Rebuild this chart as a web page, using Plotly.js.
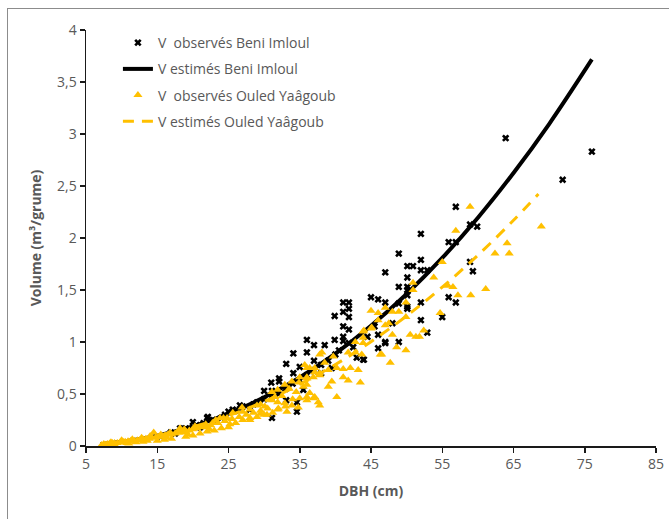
<!DOCTYPE html>
<html>
<head>
<meta charset="utf-8">
<script src="https://cdn.plot.ly/plotly-3.0.1.min.js"></script>
<style>
  html, body { margin: 0; padding: 0; background: #fff; overflow: hidden; }
  #wrap { position: relative; width: 669px; height: 519px; }
  #chart { position: absolute; left: 0; top: 0; width: 669px; height: 519px; }
  #frame { position: absolute; left: 7px; top: 8px; width: 700px; height: 600px;
           border: 1px solid #8c8c8c; box-sizing: border-box; pointer-events: none; }
</style>
</head>
<body>
<div id="wrap">
  <div id="chart"></div>
  <div id="frame"></div>
</div>
<script>
// Observed log volumes, Beni Imloul stand (DBH in cm, volume in m3 per log)
const beniDbh = [
  63.9, 76.0, 71.9, 56.9, 58.9, 59.9, 55.9, 56.9, 52.0, 48.9,
  50.1, 50.9, 52.0, 52.0, 52.9, 47.0, 58.9, 59.3, 50.1, 48.9,
  50.1, 50.1, 55.9, 56.9, 52.0, 45.0, 46.0, 47.0, 41.1, 41.9,
  41.1, 41.9, 39.9, 41.9, 41.1, 41.9, 48.9, 50.1, 50.1, 52.0,
  55.0, 52.9, 48.9, 36.0, 37.0, 38.5, 39.9, 41.1, 36.0, 35.0,
  37.0, 46.0, 47.0, 46.0, 43.0, 44.0, 35.5, 34.1, 33.1, 34.1,
  32.1, 32.1, 31.0, 30.0, 31.1, 33.1, 34.6, 26.6, 25.6, 28.0,
  22.0, 22.8, 31.1, 34.6, 21.0, 20.0, 22.1, 16.9, 18.2, 50.1,
  41.1, 41.9, 43.9, 47.0, 27.0, 28.5, 29.0, 30.0, 31.0, 32.0,
  33.0, 34.0, 35.0, 36.0, 37.0, 38.0, 39.0, 40.0, 38.0, 39.5,
  19.0, 20.5, 21.5, 23.0, 24.0, 24.5, 25.0, 26.0, 15.5, 17.5,
  44.5, 42.5, 40.5, 45.5, 48.0
];
const beniVol = [
  2.96, 2.83, 2.56, 2.30, 2.13, 2.11, 1.96, 1.96, 2.04, 1.85,
  1.73, 1.73, 1.79, 1.69, 1.69, 1.67, 1.77, 1.68, 1.62, 1.53,
  1.53, 1.50, 1.43, 1.38, 1.38, 1.43, 1.41, 1.38, 1.38, 1.38,
  1.29, 1.32, 1.25, 1.24, 1.15, 1.12, 1.37, 1.34, 1.32, 1.21,
  1.24, 1.09, 1.00, 1.02, 0.97, 0.97, 1.02, 1.05, 0.90, 0.76,
  0.82, 1.07, 1.00, 0.94, 0.85, 0.83, 0.54, 0.89, 0.79, 0.70,
  0.65, 0.62, 0.61, 0.53, 0.53, 0.44, 0.42, 0.39, 0.35, 0.35,
  0.27, 0.25, 0.27, 0.33, 0.18, 0.23, 0.28, 0.13, 0.17, 1.45,
  1.01, 0.99, 0.83, 0.99, 0.38, 0.40, 0.42, 0.45, 0.47, 0.50,
  0.55, 0.60, 0.63, 0.68, 0.72, 0.78, 0.82, 0.88, 0.70, 0.75,
  0.17, 0.20, 0.22, 0.24, 0.27, 0.30, 0.33, 0.34, 0.09, 0.12,
  1.05, 0.95, 0.92, 1.15, 1.18
];

// Fitted volume curve, Beni Imloul
const beniFitDbh = [7, 10, 15, 20, 25, 30, 35, 40, 45, 50, 55, 60, 65, 70, 76];
const beniFitVol = [0.018, 0.040, 0.100, 0.189, 0.312, 0.468, 0.660, 0.889, 1.156, 1.462, 1.808, 2.195, 2.625, 3.096, 3.717];

// Observed log volumes, Ouled Yaâgoub stand
const ouledDbh = [
  58.9, 56.9, 55.0, 53.8, 55.8, 56.5, 57.2, 59.0, 61.1, 54.7,
  50.9, 50.9, 49.9, 49.9, 45.0, 46.0, 47.0, 48.0, 48.9, 46.0,
  47.0, 47.5, 45.0, 44.0, 50.5, 51.3, 51.8, 52.4, 48.6, 68.9,
  64.1, 62.4, 64.4, 46.3, 49.9, 47.7, 48.0, 45.1, 43.9, 43.9,
  42.8, 43.9, 41.8, 42.8, 43.7, 46.5, 38.1, 39.7, 35.7, 36.4,
  37.1, 39.0, 40.2, 41.1, 42.1, 43.2, 36.0, 36.9, 37.8, 41.1,
  41.8, 39.0, 35.5, 40.2, 37.8, 36.4, 37.1, 36.0, 43.5, 37.8,
  36.0, 37.1, 37.8, 35.0, 36.0, 33.9, 34.9, 36.0, 32.9, 31.9,
  31.1, 36.0, 36.9, 37.6, 35.0, 31.1, 31.9, 32.9, 33.9, 34.8,
  29.0, 30.1, 26.9, 28.0, 31.9, 33.2, 30.4, 31.2, 25.6, 24.8,
  23.8, 22.8, 22.0, 21.0, 28.0, 29.0, 27.0,
  7.2, 7.5, 8.0, 8.3, 8.7, 9.0, 9.4, 9.8, 10.2, 10.5,
  10.9, 11.3, 11.8, 12.2, 12.6, 13.0, 13.4, 13.9, 14.5, 14.3,
  14.8, 15.2, 15.7, 16.1, 16.5, 17.0, 17.5, 18.0, 18.2, 18.5,
  19.0, 19.5, 20.0, 20.5, 21.5, 22.5, 23.5, 24.5, 25.5, 26.5,
  27.5, 28.5, 29.5, 30.5, 26.0, 28.0, 30.0, 32.0, 33.0, 34.0,
  9.0, 11.0, 13.0, 15.0, 17.0, 19.0, 21.0, 23.0, 25.0, 7.8,
  12.0, 16.0, 20.0, 22.0, 24.0, 27.0, 29.5, 32.5, 34.5, 38.5,
  39.5, 33.5, 31.5, 29.5,
  8.5, 10.0, 11.5, 12.8, 14.0, 15.5, 16.8, 18.8, 20.3, 21.8,
  23.2, 24.3, 10.7, 13.6, 16.3, 19.3, 22.3, 25.2
];
const ouledVol = [
  2.30, 2.07, 1.77, 1.62, 1.54, 1.53, 1.45, 1.45, 1.51, 1.28,
  1.57, 1.50, 1.38, 1.24, 1.30, 1.28, 1.33, 1.29, 1.29, 1.21,
  1.16, 1.18, 1.13, 1.11, 1.07, 1.05, 1.05, 1.11, 0.95, 2.11,
  1.95, 1.85, 1.85, 0.88, 0.92, 0.80, 1.07, 1.14, 1.10, 1.04,
  1.00, 0.99, 0.90, 0.90, 0.88, 0.88, 0.90, 0.86, 0.78, 0.75,
  0.75, 0.73, 0.75, 0.74, 0.75, 0.73, 0.65, 0.66, 0.68, 0.66,
  0.63, 0.57, 0.57, 0.47, 0.39, 0.51, 0.47, 0.44, 0.61, 0.88,
  0.75, 0.71, 0.70, 0.66, 0.66, 0.62, 0.61, 0.59, 0.59, 0.54,
  0.52, 0.47, 0.46, 0.42, 0.46, 0.44, 0.42, 0.41, 0.39, 0.37,
  0.39, 0.38, 0.37, 0.35, 0.35, 0.33, 0.30, 0.32, 0.32, 0.27,
  0.27, 0.22, 0.18, 0.18, 0.27, 0.28, 0.25,
  0.01, 0.02, 0.02, 0.025, 0.03, 0.03, 0.03, 0.035, 0.04, 0.04,
  0.045, 0.05, 0.05, 0.055, 0.06, 0.065, 0.07, 0.07, 0.13, 0.08,
  0.085, 0.09, 0.09, 0.10, 0.11, 0.11, 0.12, 0.13, 0.17, 0.13,
  0.14, 0.15, 0.16, 0.17, 0.19, 0.20, 0.22, 0.24, 0.26, 0.28,
  0.30, 0.32, 0.34, 0.36, 0.22, 0.25, 0.30, 0.36, 0.38, 0.45,
  0.015, 0.025, 0.04, 0.05, 0.07, 0.09, 0.12, 0.15, 0.18, 0.012,
  0.035, 0.06, 0.10, 0.14, 0.17, 0.33, 0.40, 0.48, 0.52, 0.80,
  0.62, 0.55, 0.47, 0.31,
  0.035, 0.055, 0.065, 0.08, 0.095, 0.11, 0.13, 0.16, 0.19, 0.21,
  0.25, 0.27, 0.03, 0.05, 0.08, 0.11, 0.16, 0.21
];

// Fitted volume curve, Ouled Yaâgoub
const ouledFitDbh = [7, 10, 15, 20, 25, 30, 35, 40, 45, 50, 55, 60, 65, 68.5];
const ouledFitVol = [0.020, 0.043, 0.100, 0.183, 0.292, 0.428, 0.592, 0.783, 1.003, 1.251, 1.528, 1.835, 2.170, 2.423];

const seriesNames = [
  'V\u00a0 observés Beni Imloul',
  'V estimés Beni Imloul',
  'V\u00a0 observés Ouled Yaâgoub',
  'V estimés Ouled Yaâgoub'
];

const gold = '#FFC000';
const textGrey = '#595959';
const font = '"Open Sans", "Noto Sans", Arial, sans-serif';

const traces = [
  {
    x: beniDbh, y: beniVol, type: 'scatter', mode: 'markers', name: seriesNames[0],
    legendgroup: 'a',
    marker: { symbol: 'x', size: 6.5, color: '#000000', line: { width: 0 } }
  },
  {
    x: beniFitDbh, y: beniFitVol, type: 'scatter', mode: 'lines', name: seriesNames[1],
    legendgroup: 'b',
    line: { color: '#000000', width: 4, shape: 'spline' }
  },
  {
    x: ouledDbh, y: ouledVol, type: 'scatter', mode: 'markers', name: seriesNames[2],
    legendgroup: 'c',
    marker: { symbol: 'triangle-up', size: 8, color: gold, line: { width: 0 } }
  },
  {
    x: ouledFitDbh, y: ouledFitVol, type: 'scatter', mode: 'lines', name: seriesNames[3],
    legendgroup: 'd',
    line: { color: gold, width: 3, dash: '11px,8px', shape: 'spline' }
  }
];

const layout = {
  width: 669, height: 519,
  margin: { l: 86, r: 13, t: 30, b: 73 },
  paper_bgcolor: '#ffffff', plot_bgcolor: '#ffffff',
  separators: ', ',
  font: { family: font, size: 14, color: textGrey },
  showlegend: true,
  legend: {
    x: 0.056, y: 1.007, xanchor: 'left', yanchor: 'top',
    bgcolor: 'rgba(0,0,0,0)', borderwidth: 0,
    font: { family: font, size: 14, color: textGrey },
    traceorder: 'grouped', tracegroupgap: 5
  },
  xaxis: {
    range: [5, 85], tick0: 5, dtick: 10,
    showgrid: false, zeroline: false,
    showline: true, linecolor: '#1a1a1a', linewidth: 1.5,
    ticks: 'outside', ticklen: 5, tickcolor: '#1a1a1a', tickwidth: 1.5,
    tickfont: { family: font, size: 14, color: textGrey },
    title: { text: '<b>DBH (cm)</b>', font: { family: font, size: 14, color: textGrey }, standoff: 14 }
  },
  yaxis: {
    range: [0, 4], tick0: 0, dtick: 0.5,
    showgrid: false, zeroline: false,
    showline: true, linecolor: '#1a1a1a', linewidth: 1.5,
    ticks: 'outside', ticklen: 5, tickcolor: '#1a1a1a', tickwidth: 1.5,
    tickfont: { family: font, size: 14, color: textGrey },
    title: { text: '<b>Volume (m³/grume)</b>', font: { family: font, size: 14, color: textGrey }, standoff: 12 }
  }
};

Plotly.newPlot('chart', traces, layout, { staticPlot: true, displayModeBar: false });
</script>
</body>
</html>
